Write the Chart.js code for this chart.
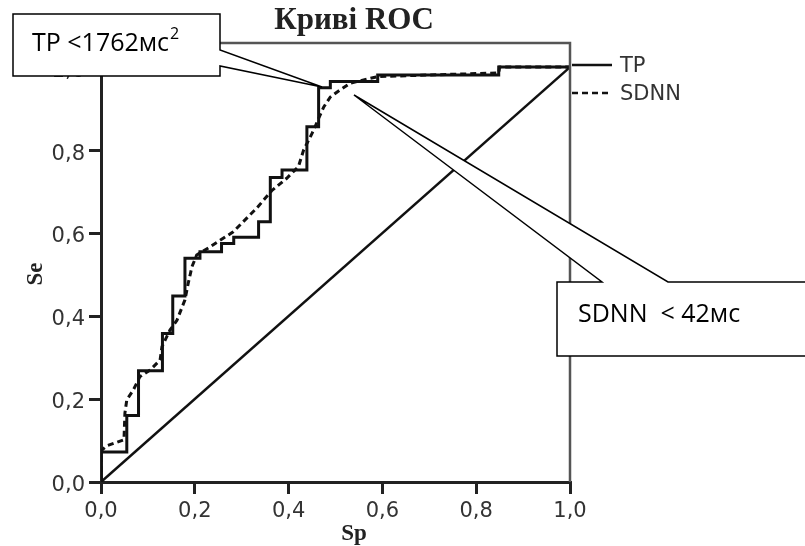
<!DOCTYPE html>
<html>
<head>
<meta charset="utf-8">
<script src="https://cdn.jsdelivr.net/npm/chart.js@4.4.1/dist/chart.umd.min.js"></script>
<style>
  html, body { margin: 0; padding: 0; background: #fff; }
  #roc { display: block; }
</style>
</head>
<body>
<canvas id="roc" width="805" height="546"></canvas>
<script>
// ROC curve corners (Sp on x, Se on y)
const tpSp = [0, 0, 0.055, 0.055, 0.08, 0.08, 0.131, 0.131, 0.153, 0.153, 0.179, 0.179, 0.211, 0.211, 0.257, 0.257, 0.283, 0.283, 0.336, 0.336, 0.361, 0.361, 0.386, 0.386, 0.439, 0.439, 0.464, 0.464, 0.489, 0.489, 0.59, 0.59, 0.848, 0.848, 1];
const tpSe = [0, 0.072, 0.072, 0.16, 0.16, 0.268, 0.268, 0.358, 0.358, 0.448, 0.448, 0.539, 0.539, 0.555, 0.555, 0.575, 0.575, 0.59, 0.59, 0.627, 0.627, 0.734, 0.734, 0.752, 0.752, 0.856, 0.856, 0.95, 0.95, 0.965, 0.965, 0.981, 0.981, 1, 1];
const sdnnSp = [0, 0, 0.012, 0.049, 0.051, 0.055, 0.069, 0.083, 0.105, 0.126, 0.13, 0.147, 0.162, 0.179, 0.186, 0.194, 0.204, 0.233, 0.282, 0.332, 0.364, 0.396, 0.421, 0.432, 0.45, 0.464, 0.475, 0.489, 0.51, 0.531, 0.56, 0.59, 0.848, 0.85, 1];
const sdnnSe = [0, 0.075, 0.087, 0.102, 0.166, 0.198, 0.222, 0.254, 0.27, 0.294, 0.326, 0.366, 0.39, 0.439, 0.479, 0.519, 0.547, 0.567, 0.603, 0.66, 0.702, 0.732, 0.76, 0.8, 0.84, 0.876, 0.904, 0.928, 0.945, 0.961, 0.969, 0.977, 0.986, 1, 1];
const diagSp = [0, 1];
const diagSe = [0, 1];
const axisTicks = [0, 0.2, 0.4, 0.6, 0.8, 1.0];
const seriesNames = ['TP', 'SDNN'];
const chartTitle = 'Криві ROC';
const xTitle = 'Sp';
const yTitle = 'Se';
const noteTP = 'TP <1762мс';
const noteTPsup = '2';
const noteSDNN = 'SDNN  < 42мс';

function pairs(xs, ys) {
    return xs.map((x, i) => ({ x: x, y: ys[i] }));
}

const fmt = v => v.toFixed(1).replace('.', ',');

// frame, legend, titles and the two callouts
const extras = {
    id: 'extras',
    afterDraw(chart) {
        const ctx = chart.ctx;
        const a = chart.chartArea;
        ctx.save();

        // top and right edges of the box
        ctx.strokeStyle = '#555';
        ctx.lineWidth = 2.5;
        ctx.beginPath();
        ctx.moveTo(a.left, a.top);
        ctx.lineTo(a.right, a.top);
        ctx.lineTo(a.right, a.bottom);
        ctx.stroke();

        // legend
        const ds = chart.data.datasets;
        const ly = [65, 93];
        [0, 1].forEach(i => {
            ctx.strokeStyle = '#111';
            ctx.lineWidth = 2.5;
            ctx.setLineDash(ds[i].borderDash || []);
            ctx.beginPath();
            ctx.moveTo(a.right + 2, ly[i]);
            ctx.lineTo(a.right + 42, ly[i]);
            ctx.stroke();
            ctx.setLineDash([]);
            ctx.fillStyle = '#333';
            ctx.font = '21px "DejaVu Sans"';
            ctx.textAlign = 'left';
            ctx.textBaseline = 'middle';
            ctx.fillText(ds[i].label, a.right + 50, ly[i] + 2);
        });

        // titles
        ctx.fillStyle = '#222';
        ctx.font = 'bold 31px "Liberation Serif"';
        ctx.textAlign = 'center';
        ctx.textBaseline = 'middle';
        ctx.fillText(chartTitle, 354, 21);
        ctx.font = 'bold 23px "Liberation Serif"';
        ctx.textBaseline = 'alphabetic';
        ctx.fillText(xTitle, 354, 540);
        ctx.save();
        ctx.translate(42, 274);
        ctx.rotate(-Math.PI / 2);
        ctx.fillText(yTitle, 0, 0);
        ctx.restore();

        // callouts
        ctx.fillStyle = '#fff';
        ctx.strokeStyle = '#000';
        ctx.lineWidth = 1.5;
        ctx.beginPath();
        ctx.moveTo(13, 14);
        ctx.lineTo(220, 14);
        ctx.lineTo(220, 50);
        ctx.lineTo(322, 87);
        ctx.lineTo(220, 66);
        ctx.lineTo(220, 76);
        ctx.lineTo(13, 76);
        ctx.closePath();
        ctx.fill();
        ctx.stroke();

        ctx.beginPath();
        ctx.moveTo(557, 282);
        ctx.lineTo(602, 282);
        ctx.lineTo(354, 95);
        ctx.lineTo(668, 282);
        ctx.lineTo(812, 282);
        ctx.lineTo(812, 356);
        ctx.lineTo(557, 356);
        ctx.closePath();
        ctx.fill();
        ctx.stroke();

        ctx.fillStyle = '#000';
        ctx.textAlign = 'left';
        ctx.textBaseline = 'alphabetic';
        ctx.font = '25px "Open Sans"';
        ctx.fillText(noteTP, 32, 51);
        const w = ctx.measureText(noteTP).width;
        ctx.font = '16px "Open Sans"';
        ctx.fillText(noteTPsup, 32 + w + 1, 39);
        ctx.font = '25px "Open Sans"';
        ctx.fillText(noteSDNN, 578, 322);

        ctx.restore();
    }
};

new Chart(document.getElementById('roc'), {
    type: 'scatter',
    data: {
        datasets: [
            {
                label: seriesNames[0],
                data: pairs(tpSp, tpSe),
                showLine: true,
                borderColor: '#111',
                borderWidth: 3,
                pointRadius: 0,
                tension: 0
            },
            {
                label: seriesNames[1],
                data: pairs(sdnnSp, sdnnSe),
                showLine: true,
                borderColor: '#111',
                borderWidth: 3,
                borderDash: [6, 4],
                pointRadius: 0,
                tension: 0
            },
            {
                label: 'diag',
                data: pairs(diagSp, diagSe),
                showLine: true,
                borderColor: '#111',
                borderWidth: 2.5,
                pointRadius: 0
            }
        ]
    },
    options: {
        responsive: false,
        animation: false,
        devicePixelRatio: 1,
        layout: { padding: { left: 0, right: 235, top: 43, bottom: 0 } },
        plugins: {
            legend: { display: false },
            title: { display: false },
            tooltip: { enabled: false }
        },
        scales: {
            x: {
                type: 'linear',
                min: 0,
                max: 1,
                afterFit: s => { s.height = 64; },
                afterBuildTicks: s => { s.ticks = axisTicks.map(v => ({ value: v })); },
                grid: { drawOnChartArea: false, tickLength: 12, color: '#222', lineWidth: 3 },
                border: { color: '#222', width: 3 },
                ticks: {
                    callback: v => fmt(v),
                    font: { family: 'DejaVu Sans', size: 21 },
                    color: '#333',
                    padding: 5,
                    maxRotation: 0
                }
            },
            y: {
                type: 'linear',
                min: 0,
                max: 1.058,
                afterFit: s => { s.width = 101; },
                afterBuildTicks: s => { s.ticks = axisTicks.map(v => ({ value: v })); },
                grid: { drawOnChartArea: false, tickLength: 12, color: '#222', lineWidth: 3 },
                border: { color: '#222', width: 3 },
                ticks: {
                    callback: v => fmt(v),
                    font: { family: 'DejaVu Sans', size: 21 },
                    color: '#333',
                    padding: 4,
                    labelOffset: 4
                }
            }
        }
    },
    plugins: [extras]
});
</script>
</body>
</html>
